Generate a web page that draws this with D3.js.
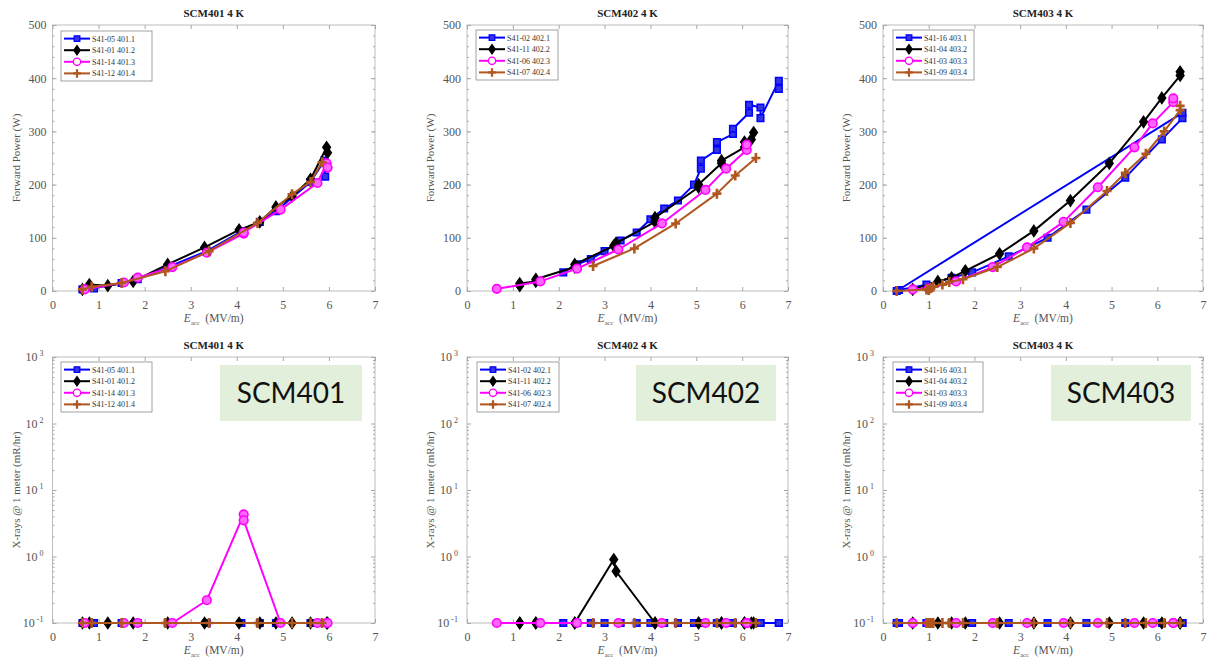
<!DOCTYPE html>
<html><head><meta charset="utf-8">
<script src="https://cdn.jsdelivr.net/npm/d3@7"></script>
<style>body{margin:0;background:#fff} svg{display:block}</style>
</head><body><svg id="c" width="1207" height="663"></svg>
<script>
// ---------- DATA ----------
const cavityNames401 = ["S41-05 401.1","S41-01 401.2","S41-14 401.3","S41-12 401.4"];
const cavityNames402 = ["S41-02 402.1","S41-11 402.2","S41-06 402.3","S41-07 402.4"];
const cavityNames403 = ["S41-16 403.1","S41-04 403.2","S41-03 403.3","S41-09 403.4"];
const xTicks = [0,1,2,3,4,5,6,7];
const powerTicks = [0,100,200,300,400,500];
const xrayTicks = [0.1,1,10,100,1000];
const xrayTickExp = ["-1","0","1","2","3"];

// SCM401
const E401_1 = [0.65,0.9,1.5,1.85,2.5,3.35,4.1,4.5,4.85,5.6,5.9,5.92];
const P401_1 = [3,5,15,22,45,75,112,130,150,205,245,215];
const X401_1 = [0.1,0.1,0.1,0.1,0.1,0.1,0.1,0.1,0.1,0.1,0.1,0.1];
const E401_2 = [0.65,0.8,1.2,1.75,2.5,3.3,4.05,4.5,4.85,5.2,5.6,5.95,5.97];
const P401_2 = [3,12,10,18,50,82,115,130,158,178,210,270,260];
const X401_2 = [0.1,0.1,0.1,0.1,0.1,0.1,0.1,0.1,0.1,0.1,0.1,0.1,0.1];
const E401_3 = [0.7,1.55,1.85,2.6,3.35,4.15,4.15,4.95,5.75,5.95,5.97];
const P401_3 = [3,16,25,45,72,108,110,153,203,240,232];
const X401_3 = [0.1,0.1,0.1,0.1,0.22,4.3,3.5,0.1,0.1,0.1,0.1];
const E401_4 = [0.65,0.85,1.5,2.45,3.4,4.45,5.2,5.6,5.85];
const P401_4 = [3,8,15,37,75,128,182,205,242];
const X401_4 = [0.1,0.1,0.1,0.1,0.1,0.1,0.1,0.1,0.1];

// SCM402
const E402_1 = [2.1,2.4,2.7,3.0,3.35,3.7,4.0,4.3,4.6,4.95,5.1,5.1,5.45,5.45,5.8,5.8,6.15,6.15,6.4,6.4,6.8,6.8];
const P402_1 = [35,50,60,75,95,110,135,155,170,200,230,245,265,280,295,305,335,350,345,325,395,380];
const X402_1 = [0.1,0.1,0.1,0.1,0.1,0.1,0.1,0.1,0.1,0.1,0.1,0.1,0.1,0.1,0.1,0.1,0.1,0.1,0.1,0.1,0.1,0.1];
const E402_2 = [1.15,1.15,1.5,1.5,2.35,2.35,3.2,3.25,4.1,4.1,5.05,5.05,5.55,5.55,6.05,6.05,6.2,6.25];
const P402_2 = [10,14,18,22,45,50,85,90,130,138,195,200,240,245,270,280,285,298];
const X402_2 = [0.1,0.1,0.1,0.1,0.1,0.1,0.9,0.6,0.1,0.1,0.1,0.1,0.1,0.1,0.1,0.1,0.1,0.1];
const E402_3 = [0.65,1.6,2.4,3.3,4.25,5.2,5.65,6.1,6.1];
const P402_3 = [4,18,42,78,127,190,230,265,275];
const X402_3 = [0.1,0.1,0.1,0.1,0.1,0.1,0.1,0.1,0.1];
const E402_4 = [2.75,3.65,4.55,5.45,5.85,6.3];
const P402_4 = [47,80,127,183,217,250];
const X402_4 = [0.1,0.1,0.1,0.1,0.1,0.1];

// SCM403
const E403_1 = [0.35,0.95,1.5,1.95,2.75,3.6,4.45,5.3,6.1,6.55,6.55,0.3];
const P403_1 = [2,12,25,35,65,100,153,213,285,325,335,0];
const X403_1 = [0.1,0.1,0.1,0.1,0.1,0.1,0.1,0.1,0.1,0.1,0.1,0.1];
const E403_2 = [0.65,1.2,1.5,1.8,2.55,3.3,4.1,4.95,5.7,6.1,6.5,6.5];
const P403_2 = [3,18,25,38,70,113,170,240,318,363,405,412];
const X403_2 = [0.1,0.1,0.1,0.1,0.1,0.1,0.1,0.1,0.1,0.1,0.1,0.1];
const E403_3 = [0.65,1.0,1.6,2.4,3.15,3.95,4.7,5.5,5.9,6.35,6.35];
const P403_3 = [3,5,18,45,82,130,195,270,315,355,362];
const X403_3 = [0.1,0.1,0.1,0.1,0.1,0.1,0.1,0.1,0.1,0.1,0.1];
const E403_4 = [0.3,0.95,1.0,1.05,1.1,1.3,1.45,1.75,2.5,3.3,4.1,4.9,5.3,5.75,6.15,6.5,6.5];
const P403_4 = [0,3,2,5,8,12,17,22,45,80,128,188,222,258,300,340,348];
const X403_4 = [0.1,0.1,0.1,0.1,0.1,0.1,0.1,0.1,0.1,0.1,0.1,0.1,0.1,0.1,0.1,0.1,0.1];

// ---------- STYLE ----------
const COLORS = ["#0000ff","#000000","#ff00ff","#b0561f"];
const SERIF = "'Liberation Serif', 'Times New Roman', 'DejaVu Serif', serif";
const svg = d3.select("#c");

function markerPath(k){
  if(k===0) return "M-3.3,-3.3H3.3V3.3H-3.3Z";
  if(k===1) return "M0,-5.5L3.8,0L0,5.5L-3.8,0Z";
  if(k===2) return d3.symbol(d3.symbolCircle, 58)();
  return "M-4.5,0H4.5M0,-5V5";
}
function drawMarker(g, k, legend){
  const p = g.append("path").attr("d", markerPath(k));
  if(k===0) p.attr("fill","#3434e0").attr("stroke","#0000ff").attr("stroke-width",1.5);
  else if(k===1) p.attr("fill","#000").attr("stroke","#000").attr("stroke-width",1.5);
  else if(k===2) p.attr("fill", legend ? "#ffffff" : "#ff66ff").attr("stroke","#ff00ff").attr("stroke-width",1.6);
  else p.attr("fill","none").attr("stroke",COLORS[3]).attr("stroke-width",2.6);
  return p;
}

function panel(o){
  const g = svg.append("g");
  const x = d3.scaleLinear().domain([0,7]).range([o.x0,o.x1]);
  const y = o.log ? d3.scaleLog().domain([0.1,1000]).range([o.y1,o.y0])
                  : d3.scaleLinear().domain([0,500]).range([o.y1,o.y0]);
  // frame
  g.append("rect").attr("x",o.x0).attr("y",o.y0).attr("width",o.x1-o.x0).attr("height",o.y1-o.y0)
    .attr("fill","#fff").attr("stroke","#bdbdbd").attr("stroke-width",1);

  const tickCol = "#a8a8a8";
  const styleAxis = s => { s.select(".domain").remove(); s.selectAll("line").attr("stroke",tickCol); s.attr("font-family",null); };
  // x ticks bottom with labels
  g.append("g").attr("transform",`translate(0,${o.y1})`)
    .call(d3.axisBottom(x).tickValues(xTicks).tickSize(-4).tickPadding(9).tickFormat(d3.format("d")))
    .call(styleAxis)
    .call(s=>s.selectAll("text").style("font-family",SERIF).style("font-size","12px").attr("fill","#555"));
  g.append("g").attr("transform",`translate(0,${o.y0})`)
    .call(d3.axisTop(x).tickValues(xTicks).tickSize(-4).tickFormat(""))
    .call(styleAxis);

  let minor;
  if(o.log){
    minor=[];
    [0.1,1,10,100].forEach(b=>{for(let m=2;m<=9;m++) minor.push(b*m);});
  } else {
    minor = d3.range(0,501,20);
  }
  [["L",o.x0],["R",o.x1]].forEach(([side,px])=>{
    const ax = side==="L" ? d3.axisLeft(y) : d3.axisRight(y);
    g.append("g").attr("transform",`translate(${px},0)`)
      .call(ax.tickValues(minor).tickSize(-2).tickFormat("")).call(styleAxis);
  });
  const yl = g.append("g").attr("transform",`translate(${o.x0},0)`)
    .call(d3.axisLeft(y).tickValues(o.log?xrayTicks:powerTicks).tickSize(-4)
      .tickPadding(o.log?9:6).tickFormat(o.log?()=>"":d3.format("d")))
    .call(styleAxis);
  yl.selectAll("text").style("font-family",SERIF).style("font-size","12px").attr("fill","#555");
  if(o.log){
    yl.selectAll("text").each(function(d,i){
      const t = d3.select(this);
      t.text("10");
      t.append("tspan").attr("dx",2).attr("dy",-5).style("font-size","8px").text(xrayTickExp[i]);
    });
  }
  g.append("g").attr("transform",`translate(${o.x1},0)`)
    .call(d3.axisRight(y).tickValues(o.log?xrayTicks:powerTicks).tickSize(-4).tickFormat(""))
    .call(styleAxis);

  // title
  g.append("text").attr("x",(o.x0+o.x1)/2).attr("y",o.y0-8).attr("text-anchor","middle")
    .style("font-family",SERIF).style("font-weight","bold").style("font-size","11px").attr("fill","#222")
    .text(o.title);
  // x label
  const xl = g.append("text").attr("x",(o.x0+o.x1)/2).attr("y",o.y1+31).attr("text-anchor","middle")
    .style("font-family",SERIF).style("font-size","11.5px").attr("fill","#555");
  xl.append("tspan").style("font-style","italic").text("E");
  xl.append("tspan").style("font-size","6.5px").attr("dy",3).text("acc");
  xl.append("tspan").attr("dy",-3).text("\u00a0\u00a0(MV/m)");
  // y label
  g.append("text").attr("transform",`translate(${o.x0-33},${(o.y0+o.y1)/2}) rotate(-90)`)
    .attr("text-anchor","middle").style("font-family",SERIF).style("font-size","11px").attr("fill","#555")
    .text(o.log ? "X-rays @ 1 meter (mR/hr)" : "Forward Power (W)");

  // green label box
  if(o.green){
    g.append("rect").attr("x",o.green.x).attr("y",o.green.y).attr("width",o.green.w).attr("height",o.green.h)
      .attr("fill","#e2efda");
    g.append("text").attr("x",o.green.x+o.green.w/2).attr("y",o.green.y+o.green.h/2+10)
      .attr("text-anchor","middle").style("font-family","Lato, 'Open Sans', sans-serif")
      .style("font-size","28px").attr("fill","#111").text(o.green.text);
  }

  // series
  const clip = "clip"+Math.round(o.x0)+"_"+Math.round(o.y0);
  svg.append("clipPath").attr("id",clip).append("rect")
    .attr("x",o.x0-7).attr("y",o.y0).attr("width",o.x1-o.x0+14).attr("height",o.y1-o.y0+7);
  const sg = g.append("g").attr("clip-path",`url(#${clip})`);
  o.series.forEach((s,k)=>{
    const pts = s.E.map((e,i)=>[e,s.V[i]]);
    sg.append("path").attr("d", d3.line().x(d=>x(d[0])).y(d=>y(d[1]))(pts))
      .attr("fill","none").attr("stroke",COLORS[k]).attr("stroke-width",2).attr("stroke-linejoin","round");
    pts.forEach(d=>{
      const mg = sg.append("g").attr("transform",`translate(${x(d[0])},${y(d[1])})`);
      drawMarker(mg,k,false);
    });
  });

  // legend
  const L = o.legend;
  g.append("rect").attr("x",L.x).attr("y",L.y).attr("width",L.w).attr("height",L.h)
    .attr("fill","#fff").attr("stroke","#8a8a8a").attr("stroke-width",0.8);
  o.names.forEach((nm,k)=>{
    const ry = L.y + L.h/2 + (k-1.5)*11.6;
    g.append("line").attr("x1",L.x+3).attr("x2",L.x+29).attr("y1",ry).attr("y2",ry)
      .attr("stroke",COLORS[k]).attr("stroke-width",2);
    const mg = g.append("g").attr("transform",`translate(${L.x+16},${ry}) scale(0.85)`);
    drawMarker(mg,k,true);
    g.append("text").attr("x",L.x+31).attr("y",ry+3).style("font-family",SERIF).style("font-size","8px")
      .attr("fill","#333").text(nm);
  });
}

const cols = [
  {x0:52.5,x1:375, names:cavityNames401, title:"SCM401 4 K",
   E:[E401_1,E401_2,E401_3,E401_4], P:[P401_1,P401_2,P401_3,P401_4], X:[X401_1,X401_2,X401_3,X401_4],
   legT:{x:61,y:31,w:91,h:50}, legB:{x:61,y:362,w:91,h:50}, green:{x:220,y:365,w:142,h:56,text:"SCM401"}},
  {x0:467,x1:788, names:cavityNames402, title:"SCM402 4 K",
   E:[E402_1,E402_2,E402_3,E402_4], P:[P402_1,P402_2,P402_3,P402_4], X:[X402_1,X402_2,X402_3,X402_4],
   legT:{x:476,y:30,w:82,h:50}, legB:{x:477,y:362,w:82,h:50}, green:{x:636,y:365,w:140,h:56,text:"SCM402"}},
  {x0:883,x1:1203, names:cavityNames403, title:"SCM403 4 K",
   E:[E403_1,E403_2,E403_3,E403_4], P:[P403_1,P403_2,P403_3,P403_4], X:[X403_1,X403_2,X403_3,X403_4],
   legT:{x:893,y:30,w:81,h:50}, legB:{x:893,y:362,w:90,h:50}, green:{x:1051,y:365,w:140,h:56,text:"SCM403"}}
];

cols.forEach(c=>{
  panel({x0:c.x0,x1:c.x1,y0:25,y1:291,log:false,title:c.title,names:c.names,legend:c.legT,
    series:c.E.map((e,k)=>({E:e,V:c.P[k]}))});
  panel({x0:c.x0,x1:c.x1,y0:357,y1:623,log:true,title:c.title,names:c.names,legend:c.legB,green:c.green,
    series:c.E.map((e,k)=>({E:e,V:c.X[k]}))});
});
</script></body></html>
